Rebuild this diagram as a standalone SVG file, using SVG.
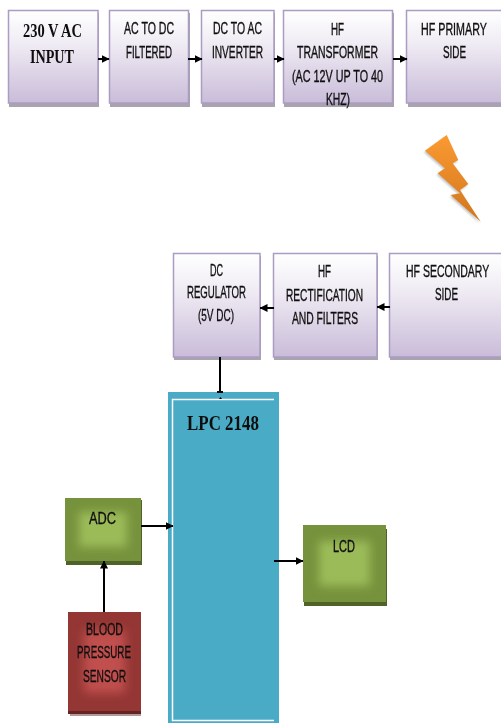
<svg xmlns="http://www.w3.org/2000/svg" width="501" height="723" viewBox="0 0 501 723">
<style>
.t{font-family:"Liberation Sans","DejaVu Sans",sans-serif;font-size:16px;fill:#111;stroke:#111;stroke-width:0.35px;filter:url(#soft)}
.s{font-family:"Liberation Serif","Times New Roman",serif;font-weight:bold;fill:#111;filter:url(#soft)}
.p{fill:url(#pg);stroke:#ab9cc3;stroke-width:1.5}
.pf{fill:url(#pg)}
.pe{fill:none;stroke:#ab9cc3;stroke-width:1.5}
.sh{fill:#a8a3ad}
.c{stroke:#000;stroke-width:2;fill:none}
.g{fill:#76923c}
.gs{fill:#4f6228}
.gi{fill:#9bbb59;filter:url(#blur)}
.r{fill:#943634}
.rs{fill:#632423}
.ri{fill:#c0504d;filter:url(#blur)}
</style>
<defs>
<linearGradient id="pg" x1="0" y1="0" x2="0" y2="1"><stop offset="0" stop-color="#fff"/><stop offset="0.35" stop-color="#f0ecf4"/><stop offset="1" stop-color="#c9bcd9"/></linearGradient>
<linearGradient id="og" x1="0" y1="0" x2="0" y2="1"><stop offset="0" stop-color="#fb9a32"/><stop offset="1" stop-color="#d2761d"/></linearGradient>
<filter id="soft" x="-5%" y="-20%" width="110%" height="140%"><feGaussianBlur stdDeviation="0.4"/></filter>
<filter id="blur" x="-30%" y="-30%" width="160%" height="160%"><feGaussianBlur stdDeviation="5"/></filter>
<filter id="bs" x="-20%" y="-20%" width="140%" height="140%"><feGaussianBlur stdDeviation="1"/></filter>
<marker id="a" viewBox="0 0 8 8" refX="7.500" refY="4" markerWidth="8" markerHeight="9" markerUnits="userSpaceOnUse" orient="auto"><path d="M0 0L8 4L0 8Z" fill="#000"/></marker>
</defs>

<g id="input"><rect class="sh" x="9" y="13" width="90" height="94"/><rect class="p" x="8.500" y="10.500" width="89.500" height="92.500"/>
<text class="s" x="23" y="37" font-size="19" textLength="59" lengthAdjust="spacingAndGlyphs">230 V AC</text>
<text class="s" x="30" y="63" font-size="19" textLength="44" lengthAdjust="spacingAndGlyphs">INPUT</text></g>

<g id="acdc"><rect class="sh" x="110" y="13" width="80" height="94"/><rect class="p" x="109.500" y="10.500" width="79" height="92.500"/>
<text class="t" x="124" y="34" textLength="50" lengthAdjust="spacingAndGlyphs">AC TO DC</text>
<text class="t" x="126" y="58" textLength="46" lengthAdjust="spacingAndGlyphs">FILTERED</text></g>

<g id="inverter"><rect class="sh" x="202" y="13" width="73" height="94"/><rect class="p" x="201.500" y="10.500" width="72.500" height="92.500"/>
<text class="t" x="213" y="34" textLength="49" lengthAdjust="spacingAndGlyphs">DC TO AC</text>
<text class="t" x="212" y="58" textLength="51" lengthAdjust="spacingAndGlyphs">INVERTER</text></g>

<g id="transformer"><rect class="sh" x="284" y="13" width="110" height="94"/><rect class="p" x="283.500" y="10.500" width="109" height="92.500"/>
<text class="t" x="331" y="35" textLength="13" lengthAdjust="spacingAndGlyphs">HF</text>
<text class="t" x="297" y="58" textLength="81" lengthAdjust="spacingAndGlyphs">TRANSFORMER</text>
<text class="t" x="292" y="82" textLength="91" lengthAdjust="spacingAndGlyphs">(AC 12V UP TO 40</text>
<text class="t" x="326" y="105" textLength="24" lengthAdjust="spacingAndGlyphs">KHZ)</text></g>

<g id="primary"><rect class="sh" x="408" y="13" width="93" height="94"/><rect class="pf" x="406.500" y="10.500" width="94.500" height="92.500"/><path class="pe" d="M501 10.500H406.500V103H501"/>
<text class="t" transform="translate(421,35) scale(0.669,1)">HF PRIMARY</text>
<text class="t" x="443" y="58" textLength="23" lengthAdjust="spacingAndGlyphs">SIDE</text></g>

<g id="bolt">
<polygon points="446.700,135 458.300,160 452.700,163.300 468.300,184 460,190 480.700,221.700 450.700,195 460,193.300 437.700,173.300 445,168.300 425,150.700" fill="#777" opacity="0.45" filter="url(#bs)" transform="translate(-1,1.500)"/>
<polygon points="446.700,135 458.300,160 452.700,163.300 468.300,184 460,190 480.700,221.700 450.700,195 460,193.300 437.700,173.300 445,168.300 425,150.700" fill="url(#og)"/></g>

<g id="regulator"><rect class="sh" x="174" y="256" width="87" height="104"/><rect class="p" x="173.500" y="253.500" width="86.500" height="103.500"/>
<text class="t" x="210" y="276" textLength="13" lengthAdjust="spacingAndGlyphs">DC</text>
<text class="t" x="187" y="298" textLength="59" lengthAdjust="spacingAndGlyphs">REGULATOR</text>
<text class="t" x="198" y="321" textLength="36" lengthAdjust="spacingAndGlyphs">(5V DC)</text></g>

<g id="rectification"><rect class="sh" x="274" y="256" width="104" height="104"/><rect class="p" x="273.500" y="253.500" width="103.500" height="103.500"/>
<text class="t" x="318" y="277" textLength="13" lengthAdjust="spacingAndGlyphs">HF</text>
<text class="t" x="286" y="301" textLength="77" lengthAdjust="spacingAndGlyphs">RECTIFICATION</text>
<text class="t" x="292" y="324" textLength="66" lengthAdjust="spacingAndGlyphs">AND FILTERS</text></g>

<g id="secondary"><rect class="sh" x="390" y="256" width="111" height="104"/><rect class="pf" x="389.500" y="253.500" width="111.500" height="103.500"/><path class="pe" d="M501 253.500H389.500V357H501"/>
<text class="t" transform="translate(406,277) scale(0.657,1)">HF SECONDARY</text>
<text class="t" x="435" y="300" textLength="23" lengthAdjust="spacingAndGlyphs">SIDE</text></g>

<g id="lpc"><rect x="168" y="392" width="111" height="331" fill="#4aabc6"/>
<path d="M274 399.500H172.500V720.500H274" fill="none" stroke="#fff" stroke-width="1.500"/>
<text class="s" x="187" y="430" font-size="21" textLength="72" lengthAdjust="spacingAndGlyphs">LPC 2148</text></g>

<g id="adc"><rect class="gs" x="66" y="500" width="76" height="65"/><rect class="g" x="65" y="498" width="76" height="63"/>
<svg x="65" y="498" width="76" height="63"><rect class="gi" x="14" y="14" width="48" height="35"/></svg>
<text class="t" x="89" y="524" textLength="27" lengthAdjust="spacingAndGlyphs">ADC</text></g>

<g id="lcd"><rect class="gs" x="304" y="529" width="83" height="77"/><rect class="g" x="303" y="525" width="83" height="77"/>
<svg x="303" y="525" width="83" height="77"><rect class="gi" x="16" y="16" width="51" height="45"/></svg>
<text class="t" x="333" y="552" textLength="22" lengthAdjust="spacingAndGlyphs">LCD</text></g>

<g id="sensor"><rect x="70" y="714" width="71" height="2" fill="#b39a9a"/><rect class="rs" x="68" y="612" width="73" height="102"/><rect class="r" x="68" y="612" width="73" height="99"/>
<svg x="68" y="612" width="73" height="99"><rect class="ri" x="16" y="18" width="41" height="63"/></svg>
<text class="t" x="86" y="635" textLength="37" lengthAdjust="spacingAndGlyphs">BLOOD</text>
<text class="t" x="77" y="658" textLength="54" lengthAdjust="spacingAndGlyphs">PRESSURE</text>
<text class="t" x="83" y="682" textLength="43" lengthAdjust="spacingAndGlyphs">SENSOR</text></g>

<g id="connectors">
<path class="c" marker-end="url(#a)" d="M98 59H109"/>
<path class="c" marker-end="url(#a)" d="M188 59H202"/>
<path class="c" marker-end="url(#a)" d="M274 59H284"/>
<path class="c" marker-end="url(#a)" d="M393 59H407"/>
<path class="c" marker-end="url(#a)" d="M274 308H260"/>
<path class="c" marker-end="url(#a)" d="M390 307H377"/>
<path class="c" d="M220 357V392M217 392H223"/>
<path d="M219 399L220.500 397L222 399Z" fill="#000"/>
<path class="c" marker-end="url(#a)" d="M141 526H173"/>
<path class="c" marker-end="url(#a)" d="M274 561H303"/>
<path class="c" marker-end="url(#a)" d="M104 612V561"/>
</g>
</svg>
